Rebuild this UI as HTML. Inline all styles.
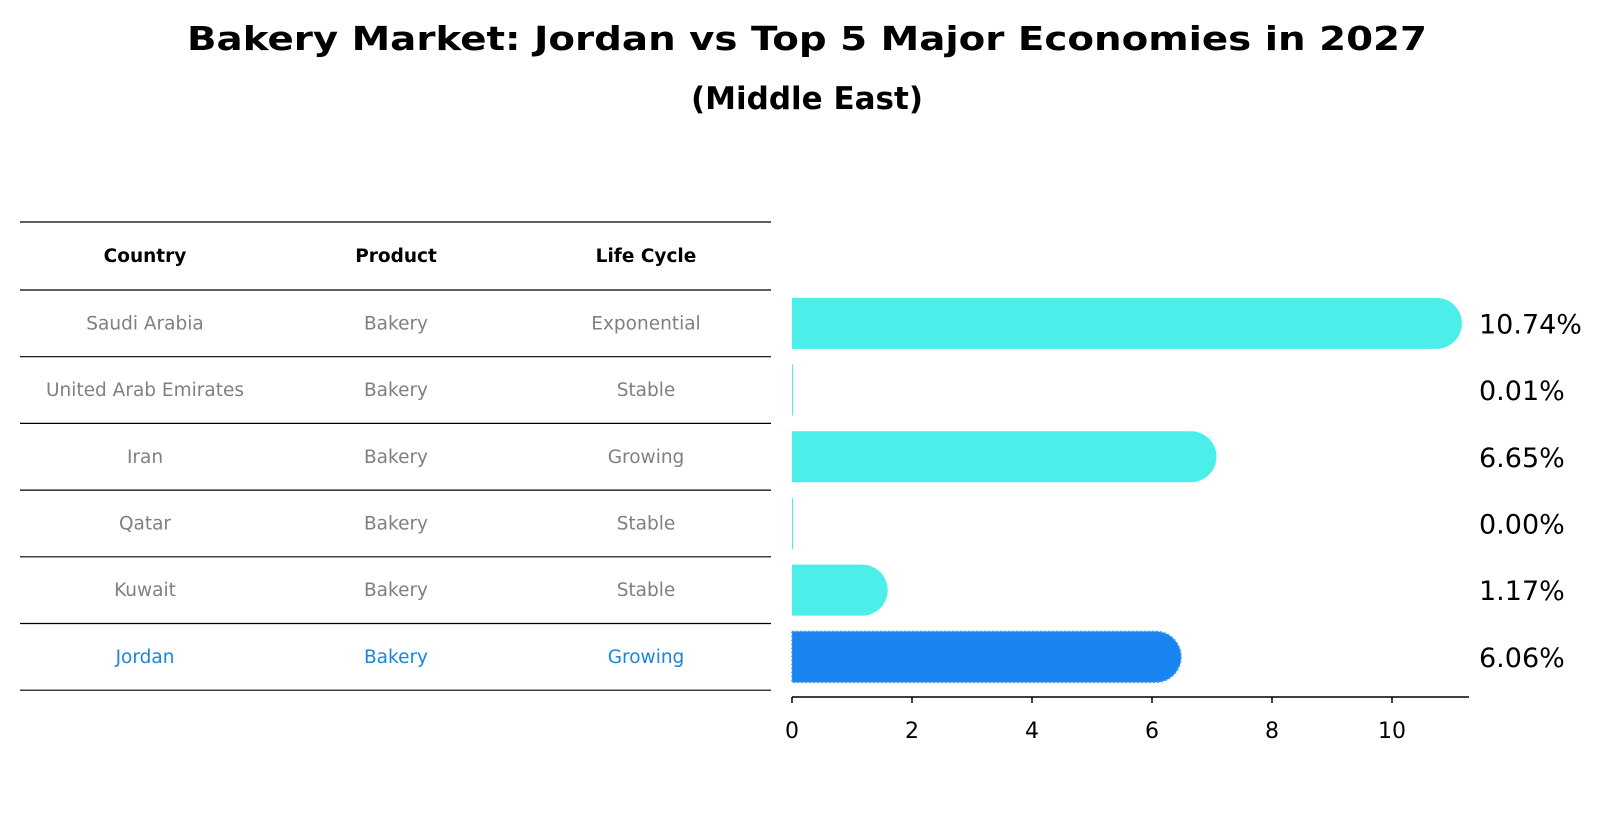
<!DOCTYPE html>
<html><head><meta charset="utf-8"><style>
html,body{margin:0;padding:0;background:#fff;}
svg{display:block;font-family:"DejaVu Sans","Liberation Sans",sans-serif;}
</style></head><body>
<svg id="c" width="1604" height="823" viewBox="0 0 1604 823">
<text x="807" y="50" text-anchor="middle" font-size="33" font-weight="bold" textLength="1240" lengthAdjust="spacingAndGlyphs">Bakery Market: Jordan vs Top 5 Major Economies in 2027</text>
<text x="807" y="109" text-anchor="middle" font-size="31" font-weight="bold">(Middle East)</text>
<g id="table"></g>
<g id="bars"></g>
<g id="axis"></g>
</svg>
<script>
const countries=["Saudi Arabia","United Arab Emirates","Iran","Qatar","Kuwait","Jordan"];
const products=["Bakery","Bakery","Bakery","Bakery","Bakery","Bakery"];
const lifecycles=["Exponential","Stable","Growing","Stable","Stable","Growing"];
const values=[10.74,0.01,6.65,0.00,1.17,6.06];
const ticks=[0,2,4,6,8,10];
const NS="http://www.w3.org/2000/svg";
function mk(t,a,p){const e=document.createElementNS(NS,t);for(const k in a)e.setAttribute(k,a[k]);p.appendChild(e);return e;}
const x0=792,unit=60,axisY=697,rowTop=290,rowH=66.7,barH=51;
const xs=v=>x0+v*unit;
const yc=i=>rowTop+rowH*i+rowH/2;
const tb=document.getElementById('table');
const colX=[145,396,646];
const lineYs=[222,rowTop];
for(let i=1;i<=countries.length;i++)lineYs.push(rowTop+rowH*i);
lineYs.forEach((y,i)=>{const l=mk('line',{x1:20,x2:771,y1:y,y2:y,stroke:'#000','stroke-width':1.2},tb);

});
["Country","Product","Life Cycle"].forEach((h,j)=>{const t=mk('text',{x:colX[j],y:262,'text-anchor':'middle','font-size':18.5,'font-weight':'bold'},tb);t.textContent=h;

});
countries.forEach((c,i)=>{const col=i===countries.length-1?'#1a85e0':'#808080';
[c,products[i],lifecycles[i]].forEach((v,j)=>{const t=mk('text',{x:colX[j],y:yc(i)+6,'text-anchor':'middle','font-size':18.5,fill:col},tb);t.textContent=v;

});});
const bg=document.getElementById('bars');
values.forEach((v,i)=>{const jor=i===values.length-1;const y=yc(i)-barH/2;const w=xs(v)-x0;const r=barH/2;
const fill=jor?'#1a85f0':'#4ceee9';
const p=mk('path',{d:w>2?`M${x0},${y}H${x0+w}A${r},${r} 0 0 1 ${x0+w},${y+barH}H${x0}Z`:`M${x0},${y}h1v${barH}h-1Z`,fill:fill},bg);
if(jor){p.setAttribute('stroke','#4aa0f5');p.setAttribute('stroke-dasharray','2,2');p.setAttribute('stroke-width','1.5');}


const t=mk('text',{x:1479,y:yc(i)+10,'font-size':27},bg);t.textContent=v.toFixed(2)+'%';

});
const ax=document.getElementById('axis');
mk('line',{x1:x0,x2:1469,y1:axisY,y2:axisY,stroke:'#000','stroke-width':1.5},ax);
ticks.forEach(v=>{mk('line',{x1:xs(v),x2:xs(v),y1:axisY,y2:axisY+6,stroke:'#000','stroke-width':1.5},ax);
const t=mk('text',{x:xs(v),y:738,'text-anchor':'middle','font-size':22},ax);t.textContent=v;

});
</script>
</body></html>
